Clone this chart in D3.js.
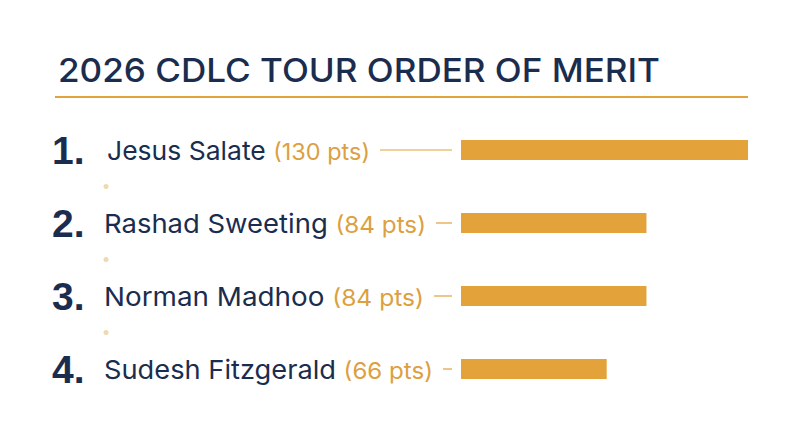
<!DOCTYPE html><html><head><meta charset="utf-8">
<script src="https://cdn.jsdelivr.net/npm/d3@7"></script>
<style>body{margin:0;background:#fff}</style></head><body>
<svg id="c" width="800" height="447"></svg>
<script>
const title = "2026 CDLC TOUR ORDER OF MERIT";
const players = ["Jesus Salate","Rashad Sweeting","Norman Madhoo","Sudesh Fitzgerald"];
const points = [130,84,84,66];
const ranks = ["1.","2.","3.","4."];
const navy="#1b2d4f", gold="#e3a23a", goldText="#dca03f";
const svg=d3.select("#c");
const tt=svg.append("text").attr("x",58).attr("y",82).attr("fill",navy)
  .style("font","500 33px Inter, 'Liberation Sans', sans-serif").text(title);
const tw=tt.node().getComputedTextLength();
tt.attr("textLength",602).attr("lengthAdjust","spacingAndGlyphs");
svg.append("line").attr("x1",55).attr("x2",748).attr("y1",97).attr("y2",97).attr("stroke",gold).attr("stroke-width",2);
const x=d3.scaleLinear().domain([0,130]).range([461,748]);
const y=d3.scalePoint().domain(players).range([150,369]);
const barH=20;
const nameEnds=[370,426,424,433];
players.forEach((p,i)=>{
  const cy=y(p);
  svg.append("text").attr("x",52).attr("y",cy+14).attr("fill",navy)
    .style("font","bold 39px 'Liberation Sans', Arial, sans-serif").text(ranks[i]);
  const x0=i==0?107:104;
  const t=svg.append("text").attr("x",x0).attr("y",cy+10)
    .style("font","26px Inter, 'Liberation Sans', sans-serif");
  t.append("tspan").attr("fill",navy).text(p+" ");
  t.append("tspan").attr("fill",goldText).style("font-size","23px").text("("+points[i]+" pts)");
  const w=t.node().getComputedTextLength();
  const target=nameEnds[i]-x0;
  if(Math.abs(w-target)>3) t.attr("textLength",target).attr("lengthAdjust","spacingAndGlyphs");
  const end=x0+target;
  svg.append("line").attr("x1",end+10).attr("x2",452).attr("y1",cy).attr("y2",cy).attr("stroke",gold).attr("stroke-width",1.2);
  svg.append("rect").attr("x",x(0)).attr("y",cy-barH/2).attr("width",x(points[i])-x(0)).attr("height",barH).attr("fill",gold);
  if(i<players.length-1){
    svg.append("circle").attr("cx",106).attr("cy",(cy+y(players[i+1]))/2).attr("r",2.5).attr("fill","#f0d9b0");
  }
});
</script></body></html>
